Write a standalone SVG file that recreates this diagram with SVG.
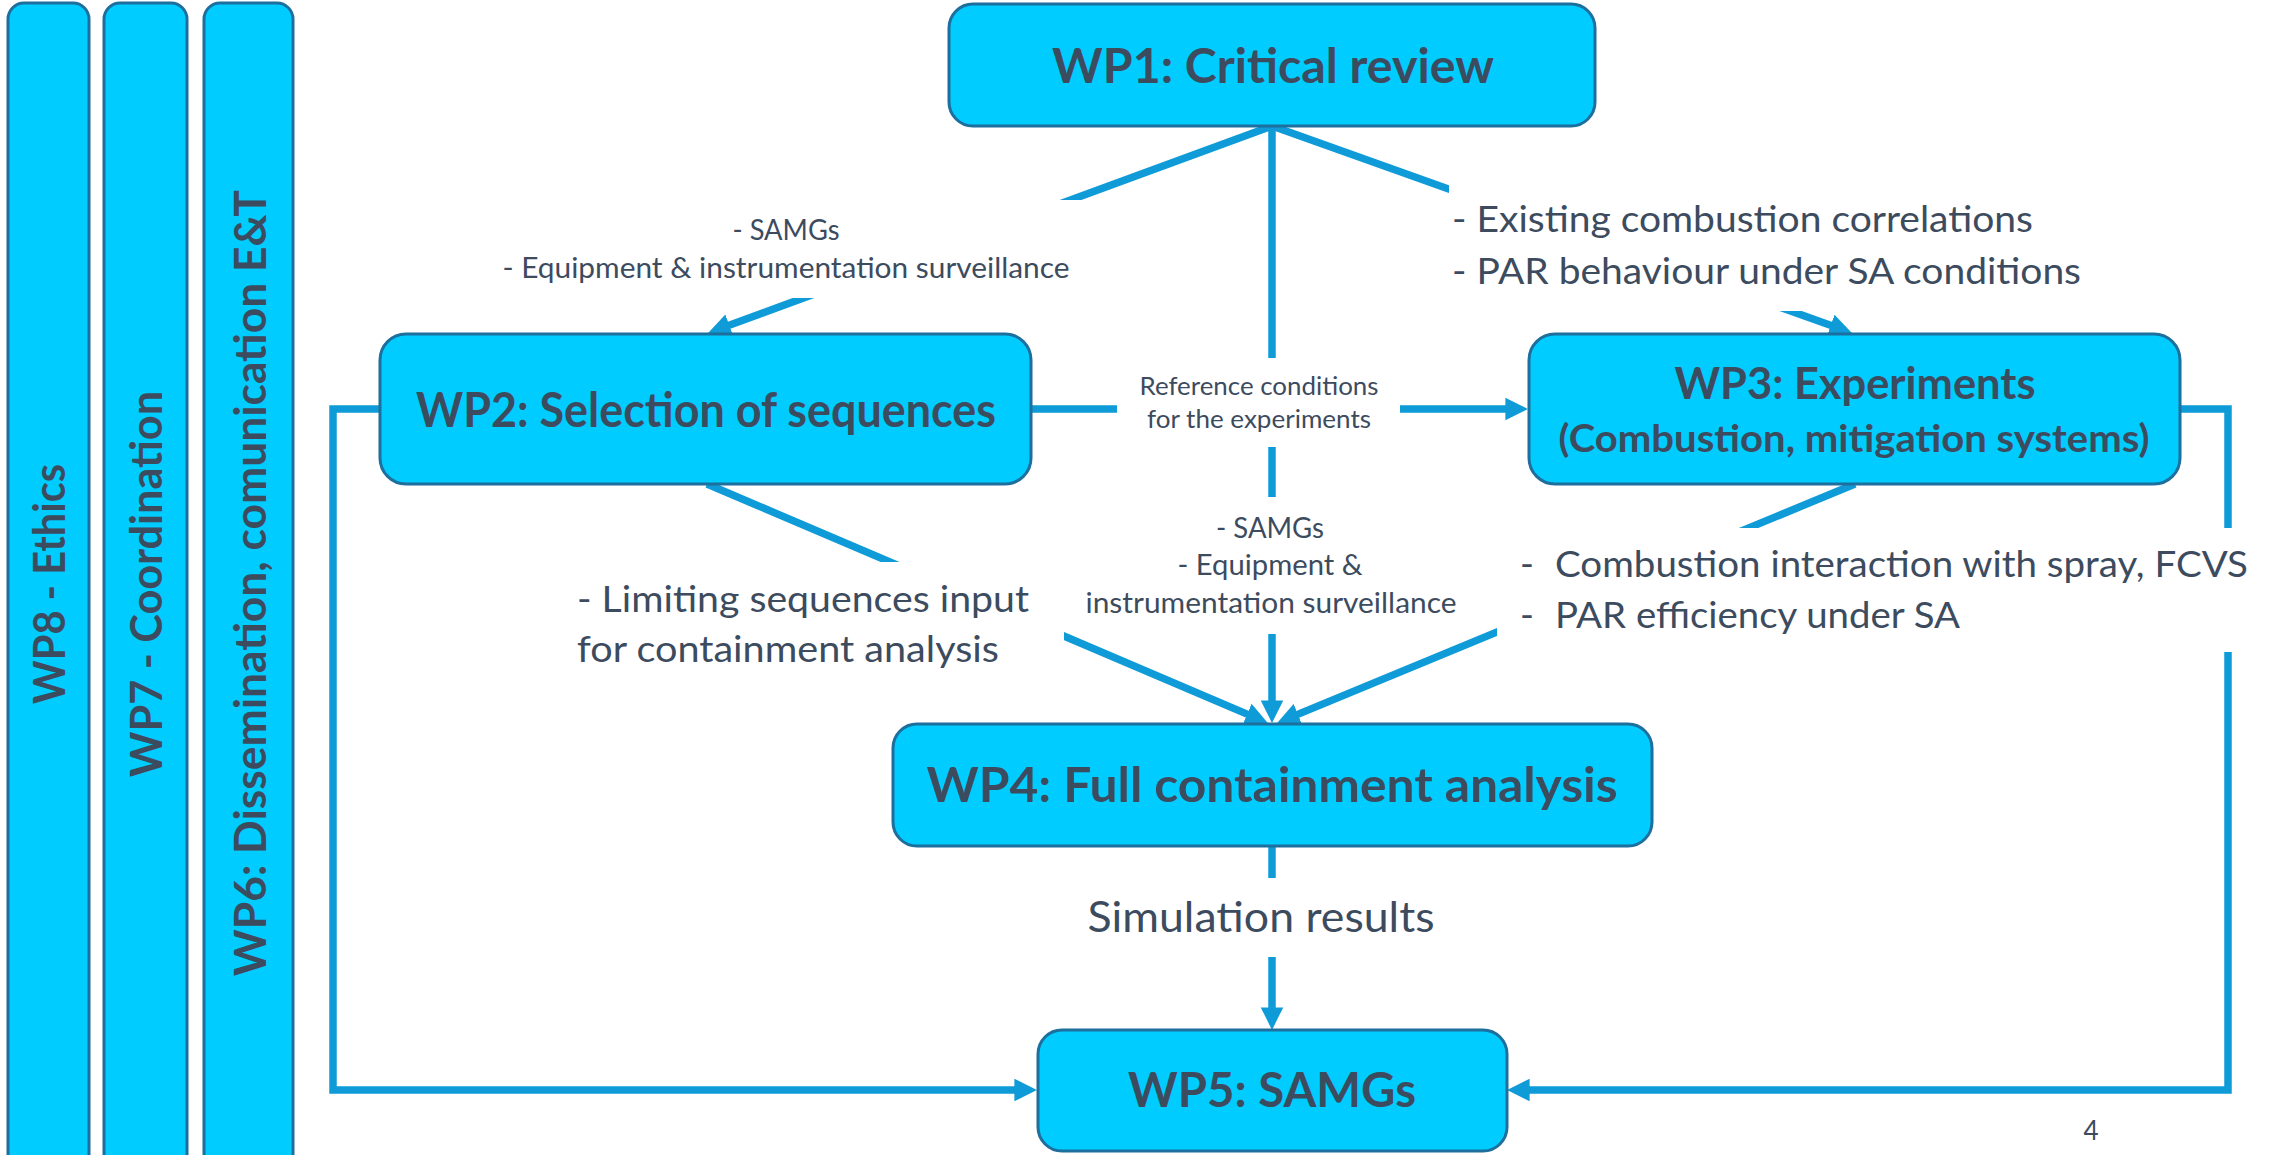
<svg xmlns="http://www.w3.org/2000/svg" width="2277" height="1155" viewBox="0 0 2277 1155">
  <style>
    .box { fill: #00CCFF; stroke: #1D6F9E; stroke-width: 3; }
    .title { font-family: Lato, "Open Sans", sans-serif; font-weight: 700; fill: #3D4B5E; text-anchor: middle; }
    .lbl { font-family: Lato, "Open Sans", sans-serif; font-weight: 400; fill: #3D4B5E; }
    .mid { text-anchor: middle; }
    .bg { fill: #FFFFFF; stroke: none; }
    .wire { fill: none; stroke: #0E9BD7; stroke-width: 7.5; stroke-linejoin: miter; }
  </style>
  <defs>
    <marker id="head" viewBox="0 0 10 10" refX="6.5" refY="5" markerWidth="3" markerHeight="3.2" orient="auto" markerUnits="strokeWidth">
      <path d="M0,0 L10,5 L0,10 z" fill="#0E9BD7"/>
    </marker>
  </defs>

  <rect width="2277" height="1155" fill="#FFFFFF"/>

  <!-- cross-cutting work packages (vertical bars) -->
  <g id="wp8">
    <rect class="box" x="8" y="3" width="81" height="1180" rx="16"/>
    <text class="title" font-size="43" textLength="240" lengthAdjust="spacingAndGlyphs" transform="translate(65,584) rotate(-90)">WP8 - Ethics</text>
  </g>
  <g id="wp7">
    <rect class="box" x="104" y="3" width="83" height="1180" rx="16"/>
    <text class="title" font-size="43" textLength="386" lengthAdjust="spacingAndGlyphs" transform="translate(162,584) rotate(-90)">WP7 - Coordination</text>
  </g>
  <g id="wp6">
    <rect class="box" x="204" y="3" width="89" height="1180" rx="16"/>
    <text class="title" font-size="43" textLength="786" lengthAdjust="spacingAndGlyphs" transform="translate(266,583) rotate(-90)">WP6: Dissemination, comunication E&amp;T</text>
  </g>

  <!-- connectors -->
  <g id="connectors">
    <line class="wire" x1="1272" y1="126" x2="715.5" y2="330.2" marker-end="url(#head)"/>
    <line class="wire" x1="1272" y1="126" x2="1844.5" y2="330.3" marker-end="url(#head)"/>
    <line class="wire" x1="1272" y1="126" x2="1272" y2="715" marker-end="url(#head)"/>
    <line class="wire" x1="1031" y1="409" x2="1520" y2="409" marker-end="url(#head)"/>
    <line class="wire" x1="707" y1="484" x2="1260.6" y2="719.9" marker-end="url(#head)"/>
    <line class="wire" x1="1855" y1="484" x2="1284.4" y2="719.9" marker-end="url(#head)"/>
    <line class="wire" x1="1272" y1="846" x2="1272" y2="1022" marker-end="url(#head)"/>
    <path class="wire" d="M380,409 H333 V1090 H1029" marker-end="url(#head)"/>
    <path class="wire" d="M2180,409 H2228 V1090 H1515" marker-end="url(#head)"/>
  </g>

  <!-- connector labels -->
  <g id="label-wp1-wp2">
    <rect class="bg" x="480" y="200" width="610" height="98"/>
    <text class="lbl mid" font-size="28.5" x="786" y="240" textLength="107" lengthAdjust="spacingAndGlyphs">- SAMGs</text>
    <text class="lbl mid" font-size="28.5" x="786" y="278" textLength="567" lengthAdjust="spacingAndGlyphs">- Equipment &amp; instrumentation surveillance</text>
  </g>
  <g id="label-wp1-wp3">
    <rect class="bg" x="1449" y="184" width="800" height="127"/>
    <text class="lbl" font-size="37.5" x="1452" y="232" textLength="581" lengthAdjust="spacingAndGlyphs">- Existing combustion correlations</text>
    <text class="lbl" font-size="37.5" x="1452" y="284" textLength="629" lengthAdjust="spacingAndGlyphs">- PAR behaviour under SA conditions</text>
  </g>
  <g id="label-wp2-wp3">
    <rect class="bg" x="1117" y="358" width="283" height="89"/>
    <text class="lbl mid" font-size="25" x="1259" y="395" textLength="239" lengthAdjust="spacingAndGlyphs">Reference conditions</text>
    <text class="lbl mid" font-size="25" x="1259" y="428" textLength="224" lengthAdjust="spacingAndGlyphs">for the experiments</text>
  </g>
  <g id="label-wp1-wp4">
    <rect class="bg" x="1080" y="497" width="385" height="137"/>
    <text class="lbl mid" font-size="28.5" x="1270" y="538" textLength="108" lengthAdjust="spacingAndGlyphs">- SAMGs</text>
    <text class="lbl mid" font-size="28.5" x="1270" y="575" textLength="185" lengthAdjust="spacingAndGlyphs">- Equipment &amp;</text>
    <text class="lbl mid" font-size="28.5" x="1271" y="613" textLength="371" lengthAdjust="spacingAndGlyphs">instrumentation surveillance</text>
  </g>
  <g id="label-wp2-wp4">
    <rect class="bg" x="560" y="562" width="504" height="118"/>
    <text class="lbl" font-size="37.5" x="577" y="612" textLength="452" lengthAdjust="spacingAndGlyphs">- Limiting sequences input</text>
    <text class="lbl" font-size="37.5" x="577" y="662" textLength="422" lengthAdjust="spacingAndGlyphs">for containment analysis</text>
  </g>
  <g id="label-wp3-wp4">
    <rect class="bg" x="1497" y="528" width="780" height="124"/>
    <text class="lbl" font-size="37.5" x="1520" y="577">-</text>
    <text class="lbl" font-size="37.5" x="1555" y="577" textLength="693" lengthAdjust="spacingAndGlyphs">Combustion interaction with spray, FCVS</text>
    <text class="lbl" font-size="37.5" x="1520" y="628">-</text>
    <text class="lbl" font-size="37.5" x="1555" y="628" textLength="405" lengthAdjust="spacingAndGlyphs">PAR efficiency under SA</text>
  </g>
  <g id="label-wp4-wp5">
    <rect class="bg" x="1080" y="878" width="370" height="79"/>
    <text class="lbl mid" font-size="43" x="1261" y="932" textLength="347" lengthAdjust="spacingAndGlyphs">Simulation results</text>
  </g>

  <!-- work package nodes -->
  <g id="wp1">
    <rect class="box" x="949" y="4" width="646" height="122" rx="24"/>
    <text class="title" font-size="47" x="1273" y="83" textLength="442" lengthAdjust="spacingAndGlyphs">WP1: Critical review</text>
  </g>
  <g id="wp2">
    <rect class="box" x="380" y="334" width="651" height="150" rx="26"/>
    <text class="title" font-size="47" x="706" y="427" textLength="580" lengthAdjust="spacingAndGlyphs">WP2: Selection of sequences</text>
  </g>
  <g id="wp3">
    <rect class="box" x="1529" y="334" width="651" height="150" rx="26"/>
    <text class="title" font-size="43" x="1855" y="399" textLength="361" lengthAdjust="spacingAndGlyphs">WP3: Experiments</text>
    <text class="title" font-size="38" x="1854" y="452" textLength="591" lengthAdjust="spacingAndGlyphs">(Combustion, mitigation systems)</text>
  </g>
  <g id="wp4">
    <rect class="box" x="893" y="724" width="759" height="122" rx="24"/>
    <text class="title" font-size="47" x="1272" y="802" textLength="691" lengthAdjust="spacingAndGlyphs">WP4: Full containment analysis</text>
  </g>
  <g id="wp5">
    <rect class="box" x="1038" y="1030" width="469" height="121" rx="24"/>
    <text class="title" font-size="47" x="1272" y="1107" textLength="288" lengthAdjust="spacingAndGlyphs">WP5: SAMGs</text>
  </g>

  <!-- slide number -->
  <text class="lbl mid" font-size="26" x="2091" y="1140">4</text>
</svg>
